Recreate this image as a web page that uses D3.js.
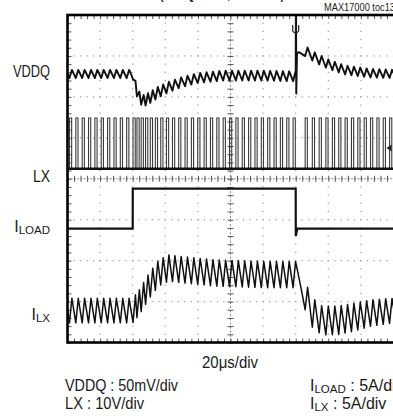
<!DOCTYPE html>
<html><head><meta charset="utf-8">
<script src="https://cdn.jsdelivr.net/npm/d3@7"></script>
<style>
html,body{margin:0;padding:0;background:#fff;}
svg{display:block;}
text{font-family:"Liberation Sans Narrow","Arial Narrow","Liberation Sans",Arial,sans-serif;fill:#1a1a1a;}
</style></head><body>
<div id="chart"></div>
<script>
// ---------------- data ----------------
const timeDomain = [0, 200];            // µs, 20 µs/div, 10 divisions
const divDomain = [-4, 4];              // 8 vertical divisions
// LX switching pulse start times (µs)
const pulseTimes = [-2.7, 1.2, 5.1, 9.0, 12.9, 16.8, 20.7, 24.6, 28.5, 32.4, 36.3, 40.2,
  42.6, 45.2, 47.9, 50.8, 53.9, 57.2, 60.7, 64.4, 68.2, 72.1, 76.0, 79.9, 83.8, 87.7,
  91.6, 95.5, 99.4, 103.3, 107.2, 111.1, 115.0, 118.9, 122.8, 126.7, 130.6, 134.5, 138.4,
  145.8, 150.2, 154.4, 158.5, 162.5, 166.4, 170.3, 174.2, 178.1, 182.0, 185.9, 189.8,
  193.7, 197.6, 201.5];
const onTime = 1.5;                     // µs
const lxHigh = 12.4;                    // V
// VDDQ deviation (mV): [time µs, mean]
const vddqMean = [[0,0],[40,0],[41,-8],[43,-25],[46,-33],[49,-31],[55,-23],[62,-16],[70,-10],
  [80,-5],[95,-2],[120,-2],[140,-3],[141,24],[146,28],[152,20],[160,12],[170,5],[185,1],[200,0]];
const vddqRipple = [[0,10],[40,10],[46,14],[70,12],[140,12],[150,12],[170,11],[200,10]];
const vddqSpike = [[140.0,-3],[140.15,150],[140.35,-24],[140.8,24]];
// ILOAD (A)
const iloadPoints = [[0,0],[40,0],[40.05,4.9],[140,4.9],[140.05,-0.9],[141,0],[200,0]];
// ILX (A): mean and peak-to-peak ripple
const ilxMean = [[0,0.6],[40,0.6],[44,1.6],[50,3.6],[56,5.2],[62,5.8],[70,5.6],[90,5.2],
  [120,5.0],[140,5.0],[145,2.8],[150,0.4],[156,-0.6],[166,-0.6],[176,-0.2],[186,0.3],[200,0.6]];
const ilxRipple = [[0,3.0],[40,3.0],[60,3.2],[140,3.2],[150,3.6],[175,3.4],[200,3.0]];
// channel positions (div from centre) and sensitivities (unit/div)
const channelNames = ["VDDQ", "LX", "ILOAD", "ILX"];
const channelPos = [2.56, 0.244, -1.22, -3.34];
const channelPerDiv = [50, 10, 5, 5];
const timeLabel = "20\u03bcs/div";
const chipLabel = "MAX17000 toc13";
const titleText = "(VDDQ = 1.5V, 0A TO 5A)";

// ---------------- drawing ----------------
const W = 393, H = 418;
const svg = d3.select("#chart").append("svg").attr("width", W).attr("height", H);
const x = d3.scaleLinear().domain(timeDomain).range([67.5, 393.5]);
const yd = d3.scaleLinear().domain(divDomain).range([342.5, 15]);
const chY = (ci, v) => yd(channelPos[ci] + v / channelPerDiv[ci]);
const kp = arr => d3.scaleLinear().domain(arr.map(d => d[0])).range(arr.map(d => d[1])).clamp(true);

svg.append("defs").append("clipPath").attr("id", "scr")
  .append("rect").attr("x", x(0)).attr("y", yd(4)).attr("width", x(200) - x(0)).attr("height", yd(-4) - yd(4));

// grid
const g = svg.append("g");
const minorX = d3.range(0, 200.01, 4), minorY = d3.range(-4, 4.001, 0.2);
d3.range(1, 10).filter(i => i !== 5).forEach(i => {
  g.selectAll(null).data(minorY).enter().append("rect")
    .attr("x", x(i * 20) - 0.6).attr("y", d => yd(d) - 0.6).attr("width", 1.2).attr("height", 1.2).attr("fill", "#999");
});
d3.range(-3, 4).filter(i => i !== 0).forEach(i => {
  g.selectAll(null).data(minorX).enter().append("rect")
    .attr("x", d => x(d) - 0.6).attr("y", yd(i) - 0.6).attr("width", 1.2).attr("height", 1.2).attr("fill", "#999");
});
// centre lines with ticks
g.append("line").attr("x1", x(0)).attr("x2", x(200)).attr("y1", yd(0)).attr("y2", yd(0))
  .attr("stroke", "#888").attr("stroke-width", 1).attr("stroke-dasharray", "2,1.26");
g.append("line").attr("x1", x(100)).attr("x2", x(100)).attr("y1", yd(4)).attr("y2", yd(-4))
  .attr("stroke", "#888").attr("stroke-width", 1).attr("stroke-dasharray", "2,2.1");
const tickStyle = sel => { sel.select(".domain").remove(); sel.selectAll("line").attr("stroke", "#555"); sel.selectAll("text").remove(); };
g.append("g").attr("transform", `translate(0,${yd(0) - 3})`)
  .call(d3.axisBottom(x).tickValues(minorX).tickSize(6).tickFormat("")).call(tickStyle);
g.append("g").attr("transform", `translate(${x(100) - 3},0)`)
  .call(d3.axisRight(yd).tickValues(minorY).tickSize(6).tickFormat("")).call(tickStyle);
// border ticks
g.append("g").attr("transform", `translate(0,${yd(4)})`).call(d3.axisBottom(x).tickValues(minorX).tickSize(4).tickFormat("")).call(tickStyle);
g.append("g").attr("transform", `translate(0,${yd(-4)})`).call(d3.axisTop(x).tickValues(minorX).tickSize(4).tickFormat("")).call(tickStyle);
g.append("g").attr("transform", `translate(${x(0)},0)`).call(d3.axisRight(yd).tickValues(minorY).tickSize(4).tickFormat("")).call(tickStyle);

const traces = svg.append("g").attr("clip-path", "url(#scr)");
const line = d3.line().x(d => x(d[0]));

// ripple trace builder
function rippleTrace(meanArr, ripArr, skip) {
  const m = kp(meanArr), r = kp(ripArr), pts = [];
  for (let i = 0; i < pulseTimes.length - 1; i++) {
    const t0 = pulseTimes[i], t1 = t0 + onTime, tn = pulseTimes[i + 1];
    pts.push([t0, m(t0) - r(t0) / 2]);
    pts.push([t1, m(t1) + r(t1) / 2]);
    for (let t = t1 + 1; t < tn - 0.5; t += 1) {
      pts.push([t, m(t) + r(t) / 2 - r(t) * (t - t1) / (tn - t1)]);
    }
  }
  return skip ? pts.filter(d => d[0] < skip[0] || d[0] > skip[1]) : pts;
}

// VDDQ
const vddqPts = rippleTrace(vddqMean, vddqRipple, [139.95, 140.85]).concat(vddqSpike).sort((a, b) => a[0] - b[0]);
traces.append("path").attr("d", line.y(d => chY(0, d[1]))(vddqPts))
  .attr("fill", "none").attr("stroke", "#111").attr("stroke-width", 1.9).attr("stroke-linejoin", "round");

// LX
const lxPts = [[0, 0]];
pulseTimes.forEach(t => { lxPts.push([t, 0], [t, lxHigh], [t + onTime * 0.9, lxHigh], [t + onTime * 0.9, 0]); });
lxPts.push([200, 0]);
traces.append("path").attr("d", line.y(d => chY(1, d[1]))(lxPts))
  .attr("fill", "none").attr("stroke", "#3a3a3a").attr("stroke-width", 1.1);
traces.append("line").attr("x1", x(0)).attr("x2", x(200)).attr("y1", chY(1, 0)).attr("y2", chY(1, 0))
  .attr("stroke", "#111").attr("stroke-width", 2.6);

// ILOAD
traces.append("path").attr("d", line.y(d => chY(2, d[1]))(iloadPoints))
  .attr("fill", "none").attr("stroke", "#111").attr("stroke-width", 2.2);

// ILX
const ilxPts = rippleTrace(ilxMean, ilxRipple);
traces.append("path").attr("d", line.y(d => chY(3, d[1]))(ilxPts))
  .attr("fill", "none").attr("stroke", "#111").attr("stroke-width", 1.5).attr("stroke-linejoin", "round");

// markers
svg.append("path").attr("d", `M${x(140) - 3},${yd(4) + 10}V${yd(4) + 16}Q${x(140)},${yd(4) + 20} ${x(140) + 3},${yd(4) + 16}V${yd(4) + 10}`)
  .attr("fill", "none").attr("stroke", "#222").attr("stroke-width", 1.2);
svg.append("line").attr("x1", x(140)).attr("x2", x(140)).attr("y1", yd(4)).attr("y2", yd(4) + 18).attr("stroke", "#222").attr("stroke-width", 1.2);
svg.append("path").attr("d", `M${x(200) - 7},${yd(0.75)}L${x(200) - 2},${yd(0.75) - 3.5}V${yd(0.75) + 3.5}Z`).attr("fill", "#222");

// frame
svg.append("rect").attr("x", x(0)).attr("y", yd(4)).attr("width", x(200) - x(0) + 3).attr("height", yd(-4) - yd(4))
  .attr("fill", "none").attr("stroke", "#000").attr("stroke-width", 2.6);

// texts
svg.append("text").attr("x", 160).attr("y", -1.5).attr("font-size", 13).attr("font-weight", "bold")
  .attr("textLength", 124).attr("lengthAdjust", "spacingAndGlyphs").text(titleText);
svg.append("text").attr("x", 324).attr("y", 10.7).attr("font-size", 10.3)
  .attr("textLength", 71).attr("lengthAdjust", "spacingAndGlyphs").text(chipLabel);

function label(xp, yp, main, sub, rest, anchor, fs) {
  const t = svg.append("text").attr("x", xp).attr("y", yp).attr("font-size", fs).attr("text-anchor", anchor);
  t.append("tspan").text(main);
  if (sub) t.append("tspan").attr("font-size", fs * 0.72).attr("dy", 2).text(sub);
  if (rest) t.append("tspan").attr("dy", sub ? -2 : 0).text(rest);
  return t;
}
const lfs = 16;
label(50, 77, "VDDQ", null, null, "end", lfs).attr("textLength", 37).attr("lengthAdjust", "spacingAndGlyphs");
label(50, 182, "LX", null, null, "end", lfs).attr("textLength", 17).attr("lengthAdjust", "spacingAndGlyphs");
label(50, 232, "I", "LOAD", null, "end", lfs);
label(50, 320, "I", "LX", null, "end", lfs);

svg.append("text").attr("x", 230).attr("y", 368).attr("font-size", lfs).attr("text-anchor", "middle")
  .attr("textLength", 56).attr("lengthAdjust", "spacingAndGlyphs").text(timeLabel);
label(65, 391, `${channelNames[0]} : ${channelPerDiv[0]}mV/div`, null, null, "start", lfs).attr("textLength", 113).attr("lengthAdjust", "spacingAndGlyphs");
label(65, 409, `${channelNames[1]} : ${channelPerDiv[1]}V/div`, null, null, "start", lfs).attr("textLength", 79).attr("lengthAdjust", "spacingAndGlyphs");
label(310, 391, "I", "LOAD", ` : ${channelPerDiv[2]}A/div`, "start", lfs);
label(310, 409, "I", "LX", ` : ${channelPerDiv[3]}A/div`, "start", lfs);
</script>
</body></html>
